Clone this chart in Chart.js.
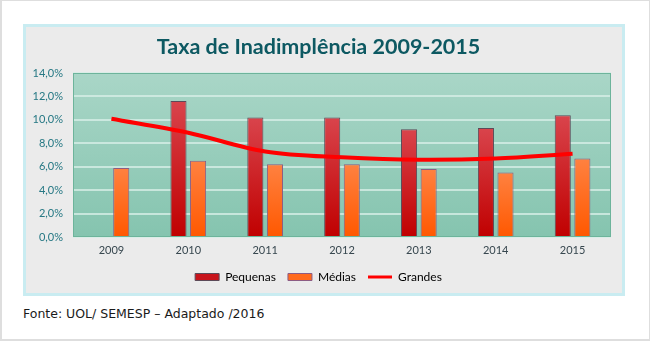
<!DOCTYPE html>
<html>
<head>
<meta charset="utf-8">
<script src="https://cdn.jsdelivr.net/npm/chart.js@4.4.1/dist/chart.umd.min.js"></script>
<style>
  html, body { margin: 0; padding: 0; background: #fff; }
  #page {
    position: relative; width: 650px; height: 341px; box-sizing: border-box;
    border: 1px solid #dedede; border-left-width: 2px; border-bottom-width: 2px;
  }
  #panel {
    position: absolute; left: 21px; top: 23px; width: 602px; height: 272px;
    box-sizing: border-box; border: 3px solid #c9ecf1; background: #ebebeb;
  }
  #wrap { position: relative; width: 596px; height: 266px; }
  #fonte {
    position: absolute; left: 21px; top: 305px;
    font: 12.5px "DejaVu Sans", sans-serif; color: #1a1a1a;
  }
</style>
</head>
<body>
<div id="page">
  <div id="panel"><div id="wrap"><canvas id="chart"></canvas></div></div>
  <div id="fonte">Fonte: UOL/ SEMESP – Adaptado /2016</div>
</div>
<script>
  var years = ["2009", "2010", "2011", "2012", "2013", "2014", "2015"];
  var pequenas = [null, 11.6, 10.2, 10.2, 9.2, 9.3, 10.4];
  var medias = [5.9, 6.5, 6.2, 6.2, 5.8, 5.5, 6.7];
  var grandes = [10.1, 8.9, 7.3, 6.8, 6.6, 6.7, 7.1];

  // vertical gradient per bar, from its top to the zero line
  function barGrad(top, bottom) {
    return function (c) {
      var chart = c.chart;
      if (!chart.chartArea || c.type !== "data" || c.raw == null) return bottom;
      var y = chart.scales.y;
      var g = chart.ctx.createLinearGradient(0, y.getPixelForValue(c.raw), 0, y.getPixelForValue(0));
      g.addColorStop(0, top);
      g.addColorStop(1, bottom);
      return g;
    };
  }

  // green plot background + thin frame
  var plotBg = {
    id: "plotBg",
    beforeDraw: function (chart) {
      var a = chart.chartArea, ctx = chart.ctx;
      var g = ctx.createLinearGradient(0, a.top, 0, a.bottom);
      g.addColorStop(0, "#a9d6c7");
      g.addColorStop(1, "#85c4af");
      ctx.save();
      ctx.fillStyle = g;
      ctx.fillRect(a.left, a.top, a.right - a.left, a.bottom - a.top);
      ctx.restore();
    },
    beforeDatasetsDraw: function (chart) {
      var a = chart.chartArea, ctx = chart.ctx;
      ctx.save();
      ctx.strokeStyle = "#6db49b";
      ctx.lineWidth = 1;
      ctx.strokeRect(a.left + 0.5, a.top + 0.5, a.right - a.left - 1, a.bottom - a.top - 1);
      ctx.restore();
    }
  };

  new Chart(document.getElementById("chart"), {
    type: "bar",
    data: {
      labels: years,
      datasets: [
        {
          label: "Pequenas",
          data: pequenas,
          backgroundColor: barGrad("#d9444c", "#c00000"),
          borderColor: "#5c4a58",
          borderWidth: 1,
          barPercentage: 0.82,
          categoryPercentage: 0.51
        },
        {
          label: "Médias",
          data: medias,
          backgroundColor: barGrad("#ff8140", "#ff5800"),
          borderColor: "#8c5c84",
          borderWidth: 1,
          barPercentage: 0.82,
          categoryPercentage: 0.51
        },
        {
          type: "line",
          label: "Grandes",
          data: grandes,
          borderColor: "#ff0000",
          borderWidth: 4,
          pointRadius: 0,
          fill: false,
          cubicInterpolationMode: "monotone",
          order: -1
        }
      ]
    },
    options: {
      responsive: true,
      maintainAspectRatio: false,
      animation: false,
      layout: { padding: { left: 0, right: 11, top: 0, bottom: 0 } },
      plugins: {
        tooltip: { enabled: false },
        title: {
          display: true,
          text: "Taxa de Inadimplência 2009-2015",
          color: "#0d5962",
          font: { family: "Lato", size: 21.5, weight: "bold" },
          padding: { top: 7, bottom: 13.2 }
        },
        legend: {
          position: "bottom",
          labels: {
            color: "#20707c",
            font: { family: "Lato", size: 12 },
            usePointStyle: true,
            pointStyleWidth: 24,
            boxHeight: 7,
            padding: 12,
            generateLabels: function () {
              return [
                { text: "Pequenas", fillStyle: "#c8141c", strokeStyle: "#5c4a58", lineWidth: 1, pointStyle: "rect", datasetIndex: 0 },
                { text: "Médias", fillStyle: "#ff6a1e", strokeStyle: "#8c5c84", lineWidth: 1, pointStyle: "rect", datasetIndex: 1 },
                { text: "Grandes", fillStyle: "#ff0000", strokeStyle: "#ff0000", lineWidth: 3, pointStyle: "line", datasetIndex: 2 }
              ];
            }
          }
        }
      },
      scales: {
        x: {
          afterFit: function (s) { s.height = 22; },
          grid: { display: false, drawTicks: false },
          border: { display: false },
          ticks: { color: "#37474f", font: { family: "Lato", size: 11 }, padding: 7 }
        },
        y: {
          min: 0,
          max: 14,
          afterFit: function (s) { s.width = 47; },
          grid: { color: "rgba(214,238,230,0.8)", lineWidth: 2, drawTicks: false },
          border: { display: false },
          ticks: {
            stepSize: 2,
            padding: 10,
            color: "#267884",
            font: { family: "Lato", size: 11 },
            callback: function (v) { return v.toFixed(1).replace(".", ",") + "%"; }
          }
        }
      }
    },
    plugins: [plotBg]
  });
</script>
</body>
</html>
